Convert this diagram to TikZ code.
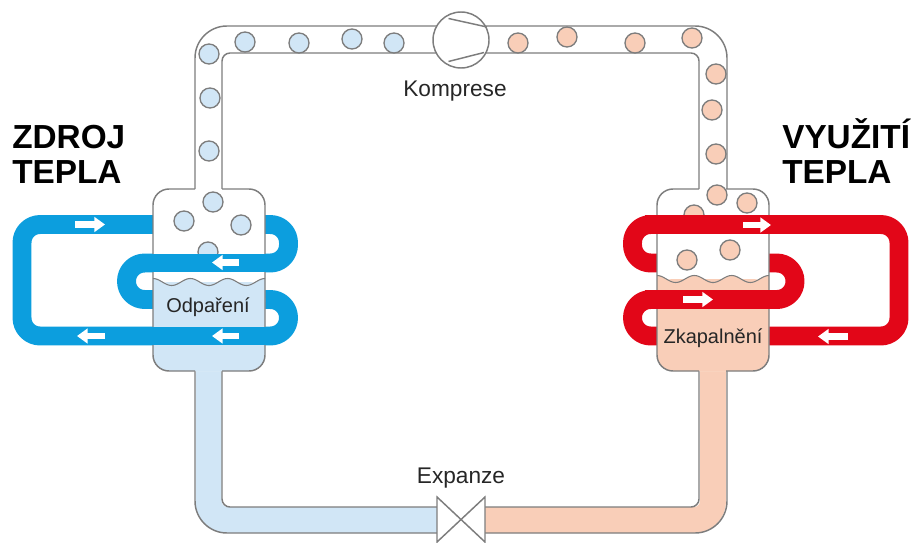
\documentclass[tikz,border=0pt]{standalone}
\usepackage{fontspec}
\setmainfont{Liberation Sans}
\usetikzlibrary{arrows.meta}

\definecolor{coldblue}{RGB}{12,158,222}
\definecolor{hotred}{RGB}{226,6,24}
\definecolor{paleblue}{RGB}{209,230,246}
\definecolor{palesalmon}{RGB}{249,206,184}
\definecolor{pipegray}{RGB}{125,125,125}

\tikzset{
    pipeline/.style = {draw = pipegray, line width = 1.1pt},
    coil/.style = {line width = 14.2pt, line cap = butt, line join = round},
    liquidpipe/.style = {line width = 19.5pt, line cap = butt, rounded corners = 14.25pt},
    bubble/.style = {draw = pipegray, line width = 1pt},
    flowarrow/.style = {white, line width = 5pt, -{Triangle[length = 8pt, width = 11pt]}},
    titletext/.style = {anchor = base west, inner sep = 0pt, font = \fontsize{25}{26}\selectfont\bfseries},
    labeltext/.style = {anchor = base, inner sep = 0pt, text = black!85},
}

% vessel: left edge, liquid colour, liquid level
\newcommand{\vessel}[3]{
    \fill [white, rounded corners = 12pt]
        (#1,189) rectangle ++(112,182);
    \fill [#2, rounded corners = 12pt]
        (#1,#3) -- (#1,371) -- ++(112,0) -- (#1+112,#3) -- cycle;
    \fill [#2, domain = 0:112, samples = 80]
        plot ({#1+\x},{#3-3.5*cos(\x/37.33*360)}) -- (#1+112,#3+20) -- (#1,#3+20) -- cycle;
    \draw [draw = pipegray, line width = 0.8pt, domain = 0:112, samples = 80]
        plot ({#1+\x},{#3-3.5*cos(\x/37.33*360)});
    \draw [pipeline, rounded corners = 12pt]
        (#1+42,189) -- (#1,189) -- (#1,371) -- (#1+42,371);
    \draw [pipeline, rounded corners = 12pt]
        (#1+69,189) -- (#1+112,189) -- (#1+112,371) -- (#1+69,371);
}

\begin{document}
\begin{tikzpicture}[
    x=0.75pt,y=0.75pt,
    yscale=-1,xscale=1,
]
    \useasboundingbox (0,0) rectangle (912,542);

    % back of the coils
    \draw [coil, coldblue, rounded corners = 13.6pt]
        (160,224.5) -- (22,224.5) -- (22,336) -- (288.5,336) -- (288.5,299.5)
        -- (126.5,299.5) -- (126.5,263) -- (288.5,263) -- (288.5,224.5) -- (255,224.5);
    \draw [coil, hotred, rounded corners = 13.6pt]
        (665,336) -- (899,336) -- (899,224.5) -- (632.5,224.5) -- (632.5,263)
        -- (795,263) -- (795,299.5) -- (632.5,299.5) -- (632.5,336) -- (680,336);

    % top pipe
    \draw [pipeline, rounded corners = 24pt]
        (195,189) -- (195,26) -- (727,26) -- (727,189);
    \draw [pipeline, rounded corners = 6pt]
        (222,189) -- (222,53) -- (699,53) -- (699,189);

    % bottom pipe
    \draw [liquidpipe, paleblue] (208.5,371) -- (208.5,520) -- (437,520);
    \draw [liquidpipe, palesalmon] (713,371) -- (713,520) -- (485,520);
    \draw [pipeline, rounded corners = 24pt]
        (195,371) -- (195,533) -- (437,533);
    \draw [pipeline, rounded corners = 6pt]
        (222,371) -- (222,507) -- (437,507);
    \draw [pipeline, rounded corners = 24pt]
        (727,371) -- (727,533) -- (485,533);
    \draw [pipeline, rounded corners = 6pt]
        (699,371) -- (699,507) -- (485,507);

    % vessels
    \vessel{153}{paleblue}{282}
    \vessel{657}{palesalmon}{279}

    % bubbles
    \foreach \bx/\by in {245/42, 299/43, 352/39, 394/43, 209/54, 210/98, 209/151,
                         213/202, 184/221, 241/225, 208/252}
        \draw [bubble, fill = paleblue] (\bx,\by) circle (10);
    \foreach \bx/\by in {518/43, 567/37, 635/43, 692/38, 716/74, 712/110, 716/154,
                         717/195, 747/203, 694/215, 687/260, 730/250}
        \draw [bubble, fill = palesalmon] (\bx,\by) circle (10);

    % front of the coils
    \draw [coil, coldblue] (140,263) -- (275,263);
    \draw [coil, coldblue] (140,336) -- (275,336);
    \draw [coil, hotred] (645,224.5) -- (780,224.5);
    \draw [coil, hotred] (645,299.5) -- (780,299.5);

    % arrows
    \draw [flowarrow] (75,224.5) -- (105,224.5);
    \draw [flowarrow] (239,262.5) -- (212,262.5);
    \draw [flowarrow] (105,336) -- (77,336);
    \draw [flowarrow] (239,336) -- (212,336);
    \draw [flowarrow] (743,225) -- (771,225);
    \draw [flowarrow] (683,299.5) -- (713,299.5);
    \draw [flowarrow] (848,336.5) -- (818,336.5);

    % compressor
    \draw [pipeline, fill = white] (461,40) circle (28);
    \draw [pipeline] (448.5,18.5) -- (487,27);
    \draw [pipeline] (448.5,61.5) -- (484,52.5);

    % valve
    \draw [pipeline, fill = white] (437,497) -- (485,542) -- (485,497) -- (437,542) -- cycle;

    % text
    \node [titletext] (zdroj) at (12,148) {ZDROJ};
    \node [titletext] (teplaleft) at (12,183) {TEPLA};
    \node [titletext] (vyuziti) at (782,148) {VYUŽITÍ};
    \node [titletext] (teplaright) at (782,183) {TEPLA};
    \node [labeltext, font = \fontsize{17}{20}\selectfont] (komprese) at (455,96) {Komprese};
    \node [labeltext, font = \fontsize{17}{20}\selectfont] (expanze) at (461,483) {Expanze};
    \node [labeltext, font = \fontsize{15}{18}\selectfont] (odpareni) at (208,312) {Odpaření};
    \node [labeltext, font = \fontsize{15}{18}\selectfont] (zkapalneni) at (713,343) {Zkapalnění};
\end{tikzpicture}
\end{document}
